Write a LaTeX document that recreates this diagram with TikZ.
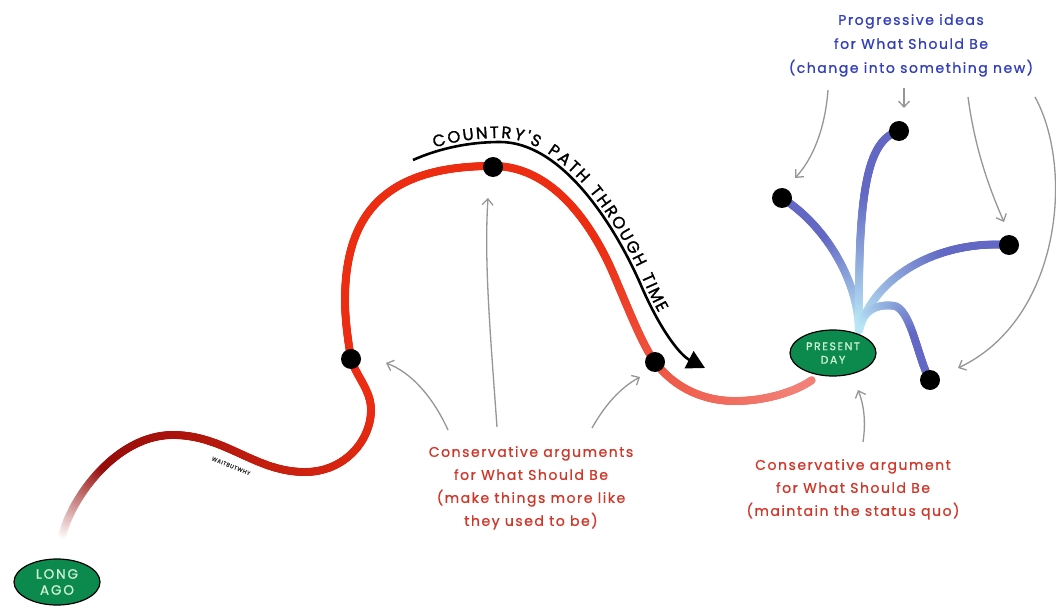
\documentclass[tikz,border=0pt]{standalone}
\usepackage{fontspec}
\setmainfont{Poppins}
\newfontfamily\notefont{Poppins}[LetterSpace=11, FakeBold=0.9]
\newfontfamily\capsfont{Poppins}[LetterSpace=10, FakeBold=1.3]
\newfontfamily\tagfont{Poppins}[LetterSpace=14, FakeBold=1.0]
\usetikzlibrary{arrows.meta,shapes.geometric,decorations.markings,decorations.text}

\definecolor{trailDark}{RGB}{150,12,10}
\definecolor{trailRed}{RGB}{236,45,18}
\definecolor{trailPink}{RGB}{242,128,118}
\definecolor{ideaLight}{RGB}{185,230,245}
\definecolor{ideaBlue}{RGB}{98,104,195}
\definecolor{capsuleGreen}{RGB}{12,138,78}
\definecolor{capsuleText}{RGB}{205,240,215}
\definecolor{noteRed}{RGB}{208,55,42}
\definecolor{noteBlue}{RGB}{50,62,190}
\definecolor{pointer}{RGB}{150,150,150}

\tikzset{
  % the country's red trail, shaded along its length
  redtrail/.style={decorate, decoration={markings,
    mark=between positions 0 and 1 step 0.8pt with {
      \pgfmathsetmacro\tpos{\pgfkeysvalueof{/pgf/decoration/mark info/distance from start}/\pgfdecoratedpathlength}
      \pgfmathtruncatemacro\pa{min(100,100*\tpos/0.07)}
      \pgfmathtruncatemacro\pb{max(0,min(100,100*(\tpos-0.07)/0.28))}
      \pgfmathtruncatemacro\pc{max(0,min(100,100*(\tpos-0.74)/0.24))}
      \colorlet{trailc}{trailDark!\pa!white}
      \colorlet{trailc}{trailRed!\pb!trailc}
      \colorlet{trailc}{trailPink!\pc!trailc}
      \fill[trailc] (0,0) circle (4pt);
    }}},
  % branches of possible futures, light at the root and blue at the tips
  bluetrail/.style={decorate, decoration={markings,
    mark=between positions 0 and 1 step 0.8pt with {
      \pgfmathsetmacro\tpos{\pgfkeysvalueof{/pgf/decoration/mark info/distance from start}/\pgfdecoratedpathlength}
      \pgfmathtruncatemacro\pa{max(0,min(100,100*(\tpos-0.05)/0.6))}
      \colorlet{trailc}{ideaBlue!\pa!ideaLight}
      \fill[trailc] (0,0) circle (4pt);
    }}},
  capsule/.style={ellipse, draw=black, line width=1.2pt, fill=capsuleGreen,
    text=capsuleText, minimum width=86pt, minimum height=46pt, inner sep=0pt,
    align=center},
  stop/.style={circle, fill=black, minimum size=20pt, inner sep=0pt},
  pointerarrow/.style={draw=pointer, line width=1.3pt,
    -{Straight Barb[length=6pt,width=11pt,line width=1.3pt]}},
  note/.style={align=center, inner sep=0pt, anchor=north},
}

\begin{document}
\begin{tikzpicture}[x=1pt,y=-1pt]
\useasboundingbox[fill=white] (0,0) rectangle (1056,609);

% red path from long ago to the present day
\path[redtrail] (62,537)
  .. controls (70,500) and (115,435) .. (173,435)
  .. controls (225,435) and (255,472) .. (305,472)
  .. controls (345,472) and (371,440) .. (371,410)
  .. controls (371,390) and (356,376) .. (351,359)
  .. controls (348,340) and (345,320) .. (345,300)
  .. controls (345,205) and (395,166) .. (493,166)
  .. controls (550,166) and (590,220) .. (613,273)
  .. controls (630,313) and (643,346) .. (655,362)
  .. controls (672,385) and (700,401) .. (735,401)
  .. controls (765,401) and (795,392) .. (812,380);

% branches of progressive ideas
\path[bluetrail] (859,330) .. controls (858,280) and (825,225) .. (782,198);
\path[bluetrail] (859,330) .. controls (858,200) and (865,140) .. (899,131);
\path[bluetrail] (859,330) .. controls (875,275) and (940,240) .. (1009,245);
\path[bluetrail] (859,330) .. controls (862,312) and (875,303) .. (895,306)
  .. controls (912,312) and (918,360) .. (930,380);

% endpoints of the trail
\node[capsule, font=\tagfont\fontsize{13.5}{16}\selectfont] (longago) at (57,582) {LONG\\AGO};
\node[capsule, font=\tagfont\fontsize{11}{13.5}\selectfont] (present) at (833,353) {PRESENT\\DAY};

% moments along the path
\node[stop] (dotA) at (351,359) {};
\node[stop] (dotB) at (493,167) {};
\node[stop] (dotC) at (655,362) {};
\node[stop] (dotP1) at (782,198) {};
\node[stop] (dotP2) at (899,131) {};
\node[stop] (dotP3) at (1009,245) {};
\node[stop] (dotP4) at (930,380) {};

% direction of time
\coordinate (flowStart) at (413,160);
\coordinate (flowEnd) at (705,368);
\draw[line width=2.6pt, -{Triangle[length=18pt,width=19pt]}]
  (flowStart) .. controls (440,148) and (470,142) .. (500,142)
  .. controls (560,142) and (612,220) .. (640,283)
  .. controls (660,330) and (680,355) .. (flowEnd);
\path[decorate, decoration={text along path, raise=4pt,
    text align={fit to path, left indent=24pt, right indent=74pt},
    text={|\capsfont\fontsize{16.5}{18}\selectfont|COUNTRY'S PATH THROUGH TIME}}]
  (flowStart) .. controls (440,148) and (470,142) .. (500,142)
  .. controls (560,142) and (612,220) .. (640,283)
  .. controls (660,330) and (680,355) .. (flowEnd);

\node[rotate=-22, font=\capsfont\fontsize{5.5}{6}\selectfont, text=black!80] (sig) at (231,466) {WAITBUTWHY};

% labels
\node[note, text=noteRed, font=\notefont\fontsize{14}{23}\selectfont] (consPast) at (531,446)
  {Conservative arguments\\for What Should Be\\(make things more like\\they used to be)};
\node[note, text=noteRed, font=\notefont\fontsize{14}{23}\selectfont] (consNow) at (853,459)
  {Conservative argument\\for What Should Be\\(maintain the status quo)};
\node[note, text=noteBlue, font=\notefont\fontsize{14}{24}\selectfont] (progress) at (911,14)
  {Progressive ideas\\for What Should Be\\(change into something new)};

% pointers from the labels to the points they describe
\coordinate (tA) at (448,430);  \coordinate (hA) at (386,363);
\coordinate (tB) at (497,427);  \coordinate (hB) at (488,198);
\coordinate (tC) at (592,428);  \coordinate (hC) at (640,377);
\coordinate (tD) at (863,442);  \coordinate (hD) at (858,390);
\coordinate (tE) at (828,90);   \coordinate (hE) at (795,178);
\coordinate (tF) at (904,88);   \coordinate (hF) at (904,108);
\coordinate (tG) at (968,97);   \coordinate (hG) at (1004,222);
\coordinate (tH) at (1035,97);  \coordinate (hH) at (958,368);

\draw[pointerarrow] (tA) .. controls (432,395) and (410,372) .. (hA);
\draw[pointerarrow] (tB) .. controls (490,330) and (484,260) .. (hB);
\draw[pointerarrow] (tC) .. controls (605,405) and (620,388) .. (hC);
\draw[pointerarrow] (tD) .. controls (866,422) and (864,405) .. (hD);
\draw[pointerarrow] (tE) .. controls (825,130) and (812,160) .. (hE);
\draw[pointerarrow] (tF) -- (hF);
\draw[pointerarrow] (tG) .. controls (975,150) and (990,190) .. (hG);
\draw[pointerarrow] (tH) .. controls (1075,170) and (1060,320) .. (hH);
\end{tikzpicture}
\end{document}
